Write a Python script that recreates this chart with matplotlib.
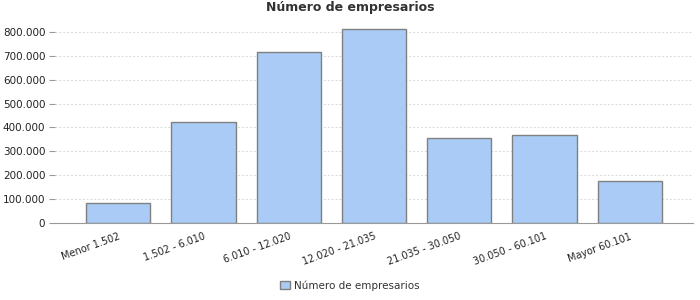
import numpy as np
import matplotlib.pyplot as plt
from matplotlib.ticker import FuncFormatter

# Data
categories = ['Menor 1.502', '1.502 - 6.010', '6.010 - 12.020', '12.020 - 21.035',
              '21.035 - 30.050', '30.050 - 60.101', 'Mayor 60.101']
empresarios = [84000, 423000, 715000, 811000, 355000, 370000, 175000]

fig = plt.figure(figsize=(7, 3), dpi=100)
ax = fig.add_axes([55 / 700, 77 / 300, 638 / 700, 198 / 300])

x = np.arange(len(categories))
ax.bar(x, empresarios, width=0.753, color='#a9cbf5', edgecolor='#808080',
       linewidth=1, label='Número de empresarios', zorder=3)

ax.set_xlim(-0.741, len(categories) - 1 + 0.741)
ax.set_ylim(0, 829000)
ax.set_yticks(np.arange(0, 800001, 100000))
ax.yaxis.set_major_formatter(FuncFormatter(lambda v, p: f'{int(v):,}'.replace(',', '.')))
ax.yaxis.grid(True, color='#d8d8d8', linestyle=(0, (2, 2)), linewidth=0.7, zorder=0)

ax.set_xticks(x)
ax.set_xticklabels(categories, rotation=20, ha='right', rotation_mode='anchor',
                   fontsize=7, color='#222222')
ax.tick_params(axis='x', length=0, pad=6)
ax.tick_params(axis='y', length=4, color='#999999', labelsize=7.5, labelcolor='#222222', pad=3)

for s in ['top', 'right', 'left']:
    ax.spines[s].set_visible(False)
ax.spines['bottom'].set_color('#999999')

fig.text(0.5, 1 - 8 / 300, 'Número de empresarios', ha='center', va='center',
         fontsize=9, fontweight='bold', color='#333333')

fig.legend(loc='lower center', bbox_to_anchor=(0.5, 0.0), frameon=False, fontsize=7.5,
           handlelength=0.9, handleheight=0.9, handletextpad=0.4, labelcolor='#333333')

fig.savefig('out.png', dpi=100)
